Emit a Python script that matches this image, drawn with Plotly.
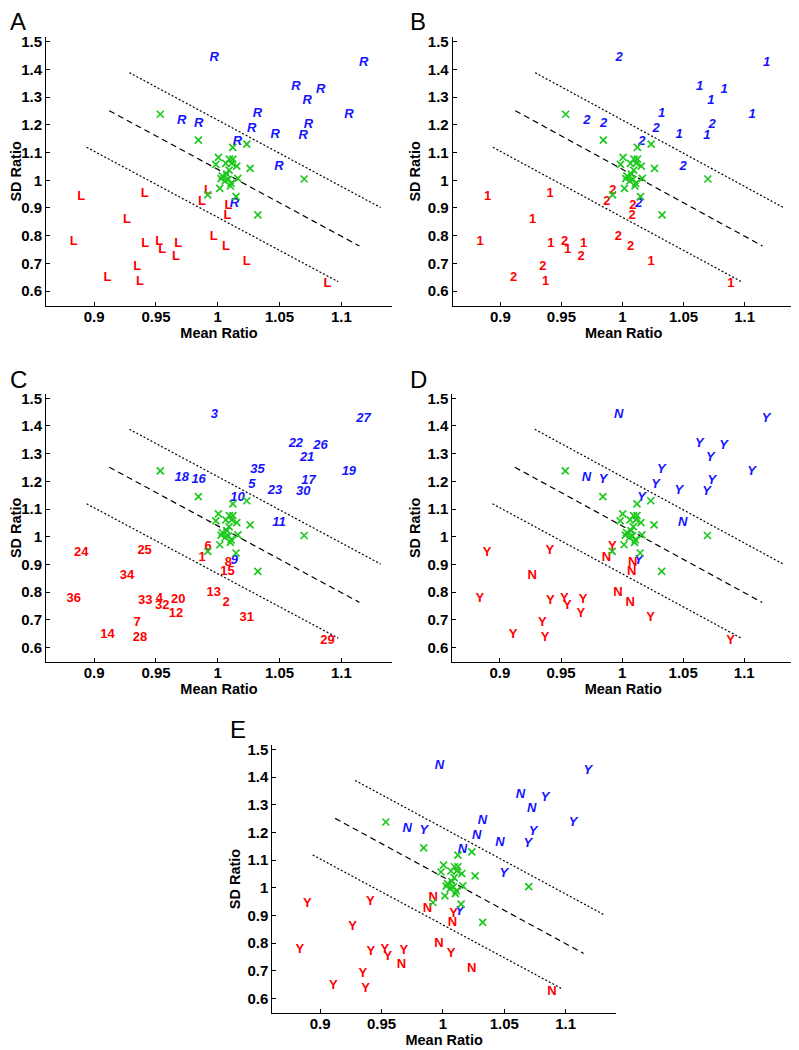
import plotly.graph_objects as go

# ---- data ----
pt_id = list(range(1, 37))
pt_x = [0.9873, 1.0067, 0.9972, 0.9527, 1.0275, 0.9921, 0.9348, 1.0086, 1.0135, 1.0159,
        1.0496, 0.9662, 0.9967, 0.9108, 1.0078, 0.9845, 1.0734, 0.9708, 1.1061, 0.9681,
        1.0723, 1.0632, 1.0464, 0.8895, 0.9408, 1.0832, 1.1180, 0.9370, 1.0888, 1.0691,
        1.0234, 0.9551, 0.9413, 0.9265, 1.0321, 0.8835]
pt_y = [0.9235, 0.7605, 1.4400, 0.7773, 1.1872, 0.9630, 0.6898, 0.9068, 0.9140, 1.1393,
        1.0494, 0.7234, 0.7977, 0.6479, 0.8732, 1.2052, 1.2016, 1.2136, 1.2351, 0.7725,
        1.2855, 1.3370, 1.1644, 0.9415, 0.9510, 1.3274, 1.4245, 0.6335, 0.6251, 1.1608,
        0.7067, 0.7510, 0.7701, 0.8576, 1.2411, 0.7773]
pt_group = ["red", "red", "blue", "red", "blue", "red", "red", "red", "blue", "blue",
            "blue", "red", "red", "red", "red", "blue", "blue", "blue", "blue", "red",
            "blue", "blue", "blue", "red", "red", "blue", "blue", "red", "red", "blue",
            "red", "red", "red", "red", "blue", "red"]
labels_B = ["2"] * 18 + ["1"] * 18
labels_D = ["N", "N", "N", "Y", "Y", "Y", "Y", "N", "Y", "Y", "N", "Y", "N", "Y", "N", "Y", "Y", "N",
            "Y", "Y", "Y", "Y", "Y", "Y", "Y", "Y", "Y", "Y", "Y", "Y", "Y", "Y", "Y", "N", "Y", "Y"]
labels_E = ["N", "Y", "N", "Y", "N", "N", "Y", "Y", "Y", "N", "Y", "N", "N", "Y", "N", "Y", "Y", "N",
            "Y", "Y", "N", "N", "N", "Y", "Y", "Y", "Y", "Y", "N", "Y", "N", "Y", "Y", "Y", "N", "Y"]

green_x = [0.9535, 0.9843, 1.0122, 1.0235, 1.0005, 0.9984, 1.0065, 1.0094, 1.0122, 1.0113,
           1.0154, 1.0262, 1.0092, 1.0037, 1.0073, 1.0027, 1.0059, 1.0086, 1.0108, 1.0162,
           1.0016, 1.0102, 0.9919, 1.0148, 1.0324, 1.0699]
green_y = [1.2380, 1.1445, 1.1183, 1.1300, 1.0824, 1.0573, 1.0609, 1.0763, 1.0763, 1.0610,
           1.0512, 1.0429, 1.0368, 1.0153, 1.0224, 1.0060, 0.9973, 1.0034, 0.9890, 1.0070,
           0.9710, 0.9793, 0.9470, 0.9413, 0.8752, 1.0045]

line_x0 = [0.9285, 0.9122, 0.8939]
line_y0 = [1.3880, 1.2510, 1.1190]
line_x1 = [1.1318, 1.1146, 1.0975]
line_y1 = [0.9015, 0.7630, 0.6340]
line_dash = ["2px,2px", "6px,4px", "2px,2px"]

x_ticks = [0.9, 0.95, 1.0, 1.05, 1.1]
x_ticktext = ["0.9", "0.95", "1", "1.05", "1.1"]
y_ticks = [0.6, 0.7, 0.8, 0.9, 1.0, 1.1, 1.2, 1.3, 1.4, 1.5]
y_ticktext = ["0.6", "0.7", "0.8", "0.9", "1", "1.1", "1.2", "1.3", "1.4", "1.5"]

panel_letters = ["A", "B", "C", "D", "E"]
panel_labels = [
    ["R" if g == "blue" else "L" for g in pt_group],
    labels_B,
    [str(i) for i in pt_id],
    labels_D,
    labels_E,
]

# ---- layout geometry (page pixels in a 799x1050 window) ----
W, H = 799, 1050
OFF = 8  # default page body margin
panel_px = [  # left, right, top, bottom
    (46.0, 392.0, 33.0, 303.0),
    (452.7, 794.7, 33.0, 303.0),
    (46.0, 392.0, 391.0, 660.7),
    (452.3, 794.3, 391.0, 660.7),
    (272.3, 616.0, 743.6, 1013.0),
]
letter_px = [(18, 18), (418, 18), (18, 377), (418, 377), (238, 728)]

BLUE = "rgb(20,20,255)"
RED = "rgb(255,0,0)"
GREEN = "rgb(30,200,30)"
FONT = "Liberation Sans"

fig = go.Figure()
layout = dict(
    width=W, height=H, margin=dict(l=0, r=0, t=0, b=0),
    paper_bgcolor="white", plot_bgcolor="white", showlegend=False,
    font=dict(family=FONT, color="black"),
)
annotations = []

for k in range(5):
    n = "" if k == 0 else str(k + 1)
    xa, ya = "x" + n, "y" + n
    l, r, t, b = panel_px[k]
    layout["xaxis" + n] = dict(
        domain=[(l - OFF) / W, (r - OFF) / W], range=[0.861, 1.141], anchor=ya,
        tickvals=x_ticks, ticktext=x_ticktext, ticks="inside", ticklen=4,
        tickcolor="black", showline=True, linecolor="black", linewidth=1,
        showgrid=False, zeroline=False, ticklabelstandoff=-3,
        tickfont=dict(family=FONT, size=15, color="black", weight="bold"),
        title=dict(text="<b>Mean Ratio</b>", font=dict(family=FONT, size=14.5, color="black"), standoff=2),
    )
    layout["yaxis" + n] = dict(
        domain=[1 - (b - OFF) / H, 1 - (t - OFF) / H], range=[0.547, 1.517], anchor=xa,
        tickvals=y_ticks, ticktext=y_ticktext, ticks="inside", ticklen=4,
        tickcolor="black", showline=True, linecolor="black", linewidth=1,
        showgrid=False, zeroline=False,
        tickfont=dict(family=FONT, size=15, color="black", weight="bold"),
        title=dict(text="<b>SD Ratio</b>", font=dict(family=FONT, size=14.5, color="black"), standoff=3),
    )

    for j in range(3):
        fig.add_trace(go.Scatter(
            x=[line_x0[j], line_x1[j]], y=[line_y0[j], line_y1[j]], mode="lines",
            line=dict(color="black", width=1.2, dash=line_dash[j]),
            xaxis=xa, yaxis=ya, hoverinfo="skip"))

    labs = panel_labels[k]
    for grp, col, style in (("red", RED, "normal"), ("blue", BLUE, "italic")):
        idx = [i for i, g in enumerate(pt_group) if g == grp]
        fig.add_trace(go.Scatter(
            x=[pt_x[i] for i in idx], y=[pt_y[i] for i in idx],
            text=[labs[i] for i in idx], mode="text", textposition="middle center",
            textfont=dict(family=FONT, size=13, color=col, weight="bold", style=style),
            xaxis=xa, yaxis=ya, hoverinfo="skip"))

    fig.add_trace(go.Scatter(
        x=green_x, y=green_y, mode="markers",
        marker=dict(symbol="x-thin", size=7, color=GREEN, line=dict(color=GREEN, width=1.7)),
        xaxis=xa, yaxis=ya, hoverinfo="skip"))

    lx, ly = letter_px[k]
    annotations.append(dict(
        text=panel_letters[k], x=(lx - OFF) / W, y=1 - (ly - OFF) / H, xref="paper", yref="paper",
        showarrow=False, xanchor="center", yanchor="middle",
        font=dict(family=FONT, size=24, color="black")))

layout["annotations"] = annotations
fig.update_layout(**layout)
fig.write_html("out.html")
